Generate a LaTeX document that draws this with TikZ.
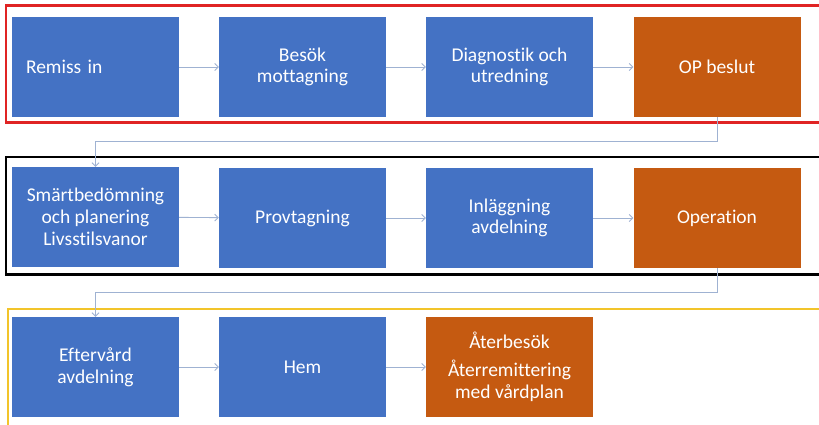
\documentclass[tikz,border=0pt]{standalone}
\usepackage{fontspec}
\setmainfont[Ligatures=NoCommon]{Carlito}
\usetikzlibrary{arrows.meta,calc}
\definecolor{boxblue}{HTML}{4472C4}
\definecolor{boxorange}{HTML}{C55A11}
\definecolor{framered}{HTML}{E02424}
\definecolor{frameyellow}{HTML}{F2C42A}
\definecolor{connblue}{HTML}{9FB2D2}
\tikzset{
  box/.style={fill=boxblue, draw=none, minimum width=167pt, minimum height=100pt,
    text=white, align=center, inner sep=0pt,
    font=\fontsize{19.5}{21.7}\selectfont},
  obox/.style={box, fill=boxorange},
  conn/.style={draw=connblue, line width=0.9pt, -{Straight Barb[length=3.5pt,width=7pt]}},
  frame/.style={line width=2.8pt}
}
\begin{document}
\begin{tikzpicture}[x=1pt,y=-1pt]
\clip (0,0) rectangle (819,425);
\fill[white] (0,0) rectangle (819,425);
% frames
\draw[frame, framered] (6,5.5) rectangle (840,122.5);
\draw[frame, black] (6,157) rectangle (840,274.5);
\draw[frame, frameyellow] (8,309) rectangle (840,440);
% row 1
\node[box, text width=139pt, align=left, inner xsep=14pt] (r1) at (95.5,67) {Remiss in};
\node[box] (r2) at (302.5,67) {Besök\\mottagning};
\node[box] (r3) at (509.5,67) {Diagnostik och\\utredning};
\node[obox] (r4) at (717,67) {OP beslut};
% row 2
\node[box] (s1) at (95.5,217) {Smärtbedömning\\och planering\\Livsstilsvanor};
\node[box] (s2) at (302.5,218) {Provtagning};
\node[box] (s3) at (509.5,218) {Inläggning\\avdelning};
\node[obox] (s4) at (717,218) {Operation};
% row 3
\node[box] (t1) at (95.5,367) {Eftervård\\avdelning};
\node[box] (t2) at (302.5,367) {Hem};
\node[obox] (t3) at (509.5,367) {Återbesök\\[6pt]Återremittering\\med vårdplan};
% connectors
\draw[conn] (r1) -- (r2);
\draw[conn] (r2) -- (r3);
\draw[conn] (r3) -- (r4);
\draw[conn] (s1) -- (s2);
\draw[conn] (s2) -- (s3);
\draw[conn] (s3) -- (s4);
\draw[conn] (t1) -- (t2);
\draw[conn] (t2) -- (t3);
\draw[conn] (r4.south) |- ($(s1.north)+(0,-25)$) -- (s1.north);
\draw[conn] (s4.south) |- ($(t1.north)+(0,-24)$) -- (t1.north);
\end{tikzpicture}
\end{document}
